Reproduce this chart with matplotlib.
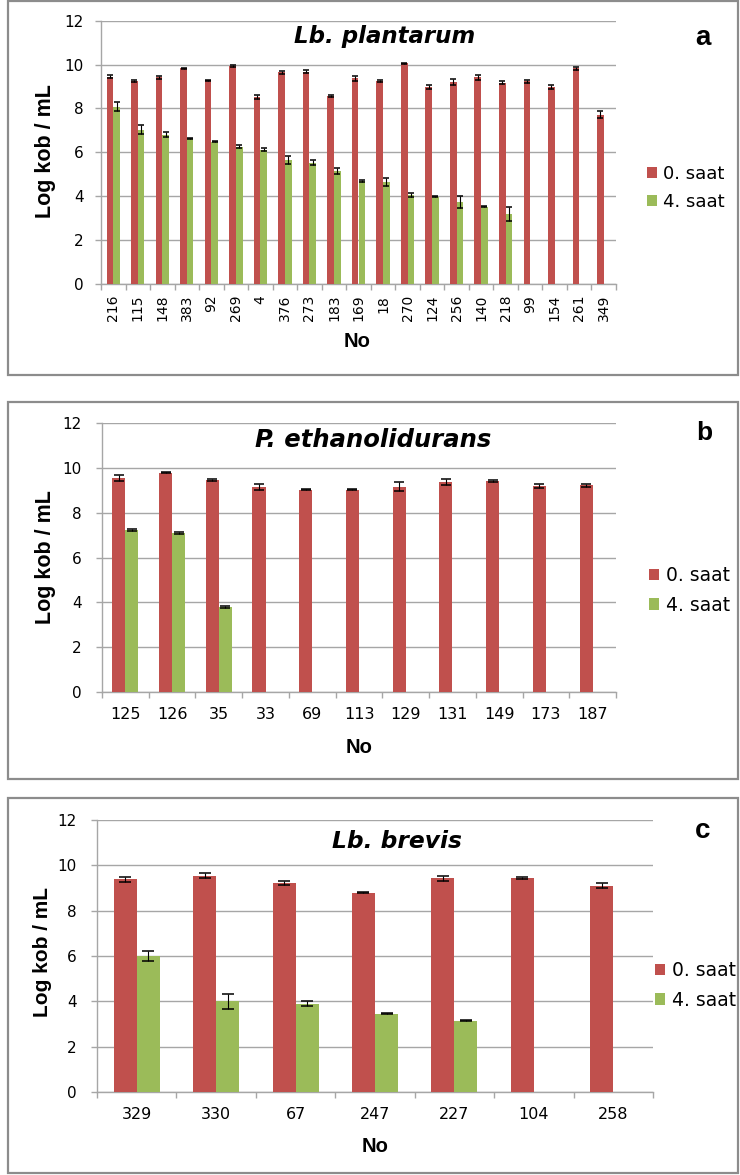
import numpy as np
import matplotlib.pyplot as plt
from matplotlib.patches import Rectangle

# --- Lb. plantarum ---
a_no = ['216', '115', '148', '383', '92', '269', '4', '376', '273', '183', '169',
        '18', '270', '124', '256', '140', '218', '99', '154', '261', '349']
a_h0 = [9.45, 9.24, 9.41, 9.83, 9.28, 9.94, 8.51, 9.64, 9.68, 8.57, 9.37,
        9.26, 10.06, 8.96, 9.20, 9.42, 9.16, 9.24, 8.98, 9.83, 7.72]
a_h0_err = [0.05, 0.04, 0.07, 0.02, 0.03, 0.03, 0.08, 0.08, 0.06, 0.06, 0.10,
            0.04, 0.03, 0.09, 0.14, 0.12, 0.07, 0.07, 0.10, 0.06, 0.14]
a_h4 = [8.07, 7.03, 6.80, 6.62, 6.47, 6.26, 6.12, 5.65, 5.53, 5.14, 4.68,
        4.64, 4.04, 3.96, 3.73, 3.52, 3.17]
a_h4_err = [0.20, 0.20, 0.10, 0.02, 0.02, 0.07, 0.08, 0.18, 0.10, 0.13, 0.06,
            0.20, 0.08, 0.02, 0.26, 0.02, 0.32]

# --- P. ethanolidurans ---
b_no = ['125', '126', '35', '33', '69', '113', '129', '131', '149', '173', '187']
b_h0 = [9.55, 9.78, 9.45, 9.15, 9.02, 9.02, 9.15, 9.37, 9.40, 9.18, 9.22]
b_h0_err = [0.15, 0.03, 0.04, 0.12, 0.02, 0.02, 0.20, 0.15, 0.05, 0.10, 0.07]
b_h4 = [7.22, 7.08, 3.80]
b_h4_err = [0.06, 0.04, 0.04]

# --- Lb. brevis ---
c_no = ['329', '330', '67', '247', '227', '104', '258']
c_h0 = [9.38, 9.55, 9.22, 8.80, 9.42, 9.45, 9.10]
c_h0_err = [0.10, 0.12, 0.08, 0.02, 0.10, 0.04, 0.10]
c_h4 = [6.00, 4.00, 3.90, 3.45, 3.15]
c_h4_err = [0.20, 0.32, 0.12, 0.02, 0.02]

RED = '#C0504D'
GREEN = '#9BBB59'
GRID = '#a6a6a6'
W, H = 740, 1175

fig = plt.figure(figsize=(W / 100, H / 100), dpi=100)


def fx(x):
    return x / W


def fy(y):
    return 1 - y / H


def panel(box, plot, no, h0, h0e, h4, h4e, title, letter, pos, barw, capsz,
          xtick_fs, rot, xpad, ytick_pad, ylab_fs, title_fs, letter_fs, leg_fs, leg_x):
    # grey frame round the whole panel
    x0, y0, x1, y1 = box
    fig.patches.append(Rectangle((fx(x0), fy(y1)), fx(x1 - x0), (y1 - y0) / H,
                                 transform=fig.transFigure, fill=False,
                                 edgecolor='#8c8c8c', linewidth=1.6))
    l, t, r, b = plot
    ax = fig.add_axes([fx(l), fy(b), fx(r - l), (b - t) / H])
    n = len(no)
    x = np.arange(n)
    x4 = np.arange(len(h4))
    r0 = ax.bar(x - barw / 2, h0, width=barw, color=RED, zorder=3)
    r4 = ax.bar(x4 + barw / 2, h4, width=barw, color=GREEN, zorder=3)
    ax.errorbar(x - barw / 2, h0, yerr=h0e, fmt='none', ecolor='black',
                elinewidth=0.8, capsize=capsz, capthick=1.1, zorder=4)
    ax.errorbar(x4 + barw / 2, h4, yerr=h4e, fmt='none', ecolor='black',
                elinewidth=0.8, capsize=capsz, capthick=1.1, zorder=4)

    ax.set_xlim(-0.5, n - 0.5)
    ax.set_ylim(0, 12)
    ax.set_yticks(range(0, 13, 2))
    ax.grid(axis='y', color=GRID, linewidth=1, zorder=0)
    for s in ['top', 'right']:
        ax.spines[s].set_visible(False)
    for s in ['left', 'bottom']:
        ax.spines[s].set_color(GRID)
        ax.spines[s].set_linewidth(1)
    ax.set_xticks(x)
    ax.set_xticklabels(no, rotation=rot, fontsize=xtick_fs, family='DejaVu Sans')
    ax.set_xticks(np.arange(-0.5, n), minor=True)
    ax.tick_params(axis='x', which='major', length=0, pad=xpad)
    ax.tick_params(axis='x', which='minor', length=4.5, color=GRID, width=1)
    ax.tick_params(axis='y', length=4.5, color=GRID, width=1, pad=ytick_pad,
                   labelsize=11)

    fig.text(fx(pos['title'][0]), fy(pos['title'][1]), title, ha='center',
             va='baseline', fontsize=title_fs, fontweight='bold', style='italic',
             family='DejaVu Sans')
    fig.text(fx(pos['letter'][0]), fy(pos['letter'][1]), letter, ha='center',
             va='baseline', fontsize=letter_fs, fontweight='bold',
             family='Liberation Sans')
    fig.text(fx(pos['ylab'][0]), fy(pos['ylab'][1]), 'Log kob / mL', rotation=90,
             ha='center', va='center', fontsize=ylab_fs, fontweight='bold',
             family='Liberation Sans')
    fig.text(fx(pos['xlab'][0]), fy(pos['xlab'][1]), 'No', ha='center',
             va='baseline', fontsize=14.5, fontweight='bold',
             family='Liberation Sans')
    ax.legend([r0, r4], ['0. saat', '4. saat'], loc='center left',
              bbox_to_anchor=(fx(leg_x), fy(pos['leg'])),
              bbox_transform=fig.transFigure, frameon=False, borderpad=0,
              borderaxespad=0, handlelength=0.55, handleheight=0.55,
              handletextpad=0.35, labelspacing=0.55,
              prop={'family': 'DejaVu Sans', 'size': leg_fs})
    return ax


panel((8, 1, 738, 375), (101, 20.7, 616, 283.7), a_no, a_h0, a_h0_err, a_h4, a_h4_err,
      'Lb. plantarum', 'a',
      {'title': (385, 43.5), 'letter': (703, 45), 'ylab': (45, 151),
       'xlab': (357, 347), 'leg': 188},
      barw=0.27, capsz=2.3, xtick_fs=10, rot=90, xpad=8, ytick_pad=8,
      ylab_fs=15.5, title_fs=16.5, letter_fs=20, leg_fs=13, leg_x=647)

panel((8, 402, 738, 779), (102, 423, 616, 692), b_no, b_h0, b_h0_err, b_h4, b_h4_err,
      'P. ethanolidurans', 'b',
      {'title': (373, 447), 'letter': (704, 440), 'ylab': (46, 557),
       'xlab': (359, 753), 'leg': 590.5},
      barw=0.28, capsz=3.6, xtick_fs=11.5, rot=0, xpad=11, ytick_pad=10,
      ylab_fs=15.5, title_fs=17.5, letter_fs=19, leg_fs=13.5, leg_x=649)

panel((8, 798, 738, 1173), (97, 820, 653, 1092), c_no, c_h0, c_h0_err, c_h4, c_h4_err,
      'Lb. brevis', 'c',
      {'title': (397, 848), 'letter': (703, 838), 'ylab': (43, 952),
       'xlab': (375, 1152), 'leg': 985.5},
      barw=0.29, capsz=4.2, xtick_fs=11.5, rot=0, xpad=11, ytick_pad=10,
      ylab_fs=15, title_fs=16.8, letter_fs=20, leg_fs=13.5, leg_x=655)

fig.savefig('out.png', dpi=100)
